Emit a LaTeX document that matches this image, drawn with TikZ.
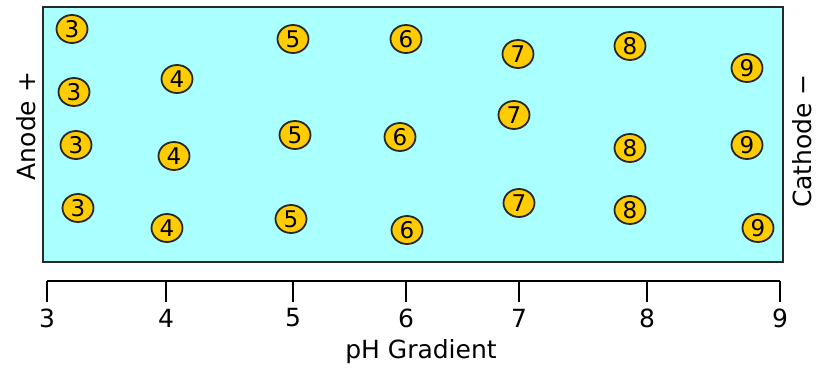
\documentclass[tikz,border=0pt]{standalone}
\usepackage{fontspec}
\setmainfont{DejaVu Sans}
\definecolor{gel}{RGB}{170,255,255}
\definecolor{gold}{RGB}{255,204,0}
\definecolor{edge}{RGB}{40,40,40}
\begin{document}
\begin{tikzpicture}[x=1pt,y=-1pt,
  prot/.style={ellipse, draw=edge, line width=1.8pt, fill=gold, minimum width=31pt, minimum height=28pt, inner sep=0pt, font=\fontsize{23}{23}\selectfont},
  tick/.style={draw=black, line width=1.3pt},
  ticklbl/.style={font=\fontsize{25}{25}\selectfont, inner sep=0pt},
  sidelbl/.style={font=\fontsize{25}{25}\selectfont, inner sep=0pt}]
\usetikzlibrary{shapes.geometric}
\useasboundingbox (0,0) rectangle (816,372);
\draw[fill=gel, draw=edge, line width=1.8pt] (43,7) rectangle (783,262);
% proteins
\node[prot] (a1) at (72,29) {3};
\node[prot] (a2) at (74,92) {3};
\node[prot] (a3) at (76,145) {3};
\node[prot] (a4) at (78,208) {3};
\node[prot] (b1) at (177,79) {4};
\node[prot] (b2) at (174,156) {4};
\node[prot] (b3) at (167,228) {4};
\node[prot] (c1) at (293,39) {5};
\node[prot] (c2) at (295,135) {5};
\node[prot] (c3) at (291,219) {5};
\node[prot] (d1) at (406,39) {6};
\node[prot] (d2) at (400,137) {6};
\node[prot] (d3) at (407,230) {6};
\node[prot] (e1) at (518,54) {7};
\node[prot] (e2) at (514,115) {7};
\node[prot] (e3) at (519,203) {7};
\node[prot] (f1) at (630,46) {8};
\node[prot] (f2) at (630,148) {8};
\node[prot] (f3) at (630,210) {8};
\node[prot] (g1) at (747,68) {9};
\node[prot] (g2) at (747,145) {9};
\node[prot] (g3) at (758,228) {9};
% side labels
\node[sidelbl, rotate=90] (anode) at (26,126) {Anode +};
\node[sidelbl, rotate=90] (cathode) at (802,141) {Cathode −};
% axis
\coordinate (ax0) at (47,281);
\coordinate (ax1) at (780,281);
\draw[tick] (ax0) -- (ax1);
\foreach \x/\l in {47/3,166/4,293/5,406/6,519/7,647/8,780/9}{
  \coordinate (t\l) at (\x,281);
  \draw[tick] (t\l) -- ++(0,21);
  \node[ticklbl] (l\l) at (\x,318) {\l};
}
\node[sidelbl] (ph) at (421,352) {pH Gradient};
\end{tikzpicture}
\end{document}
